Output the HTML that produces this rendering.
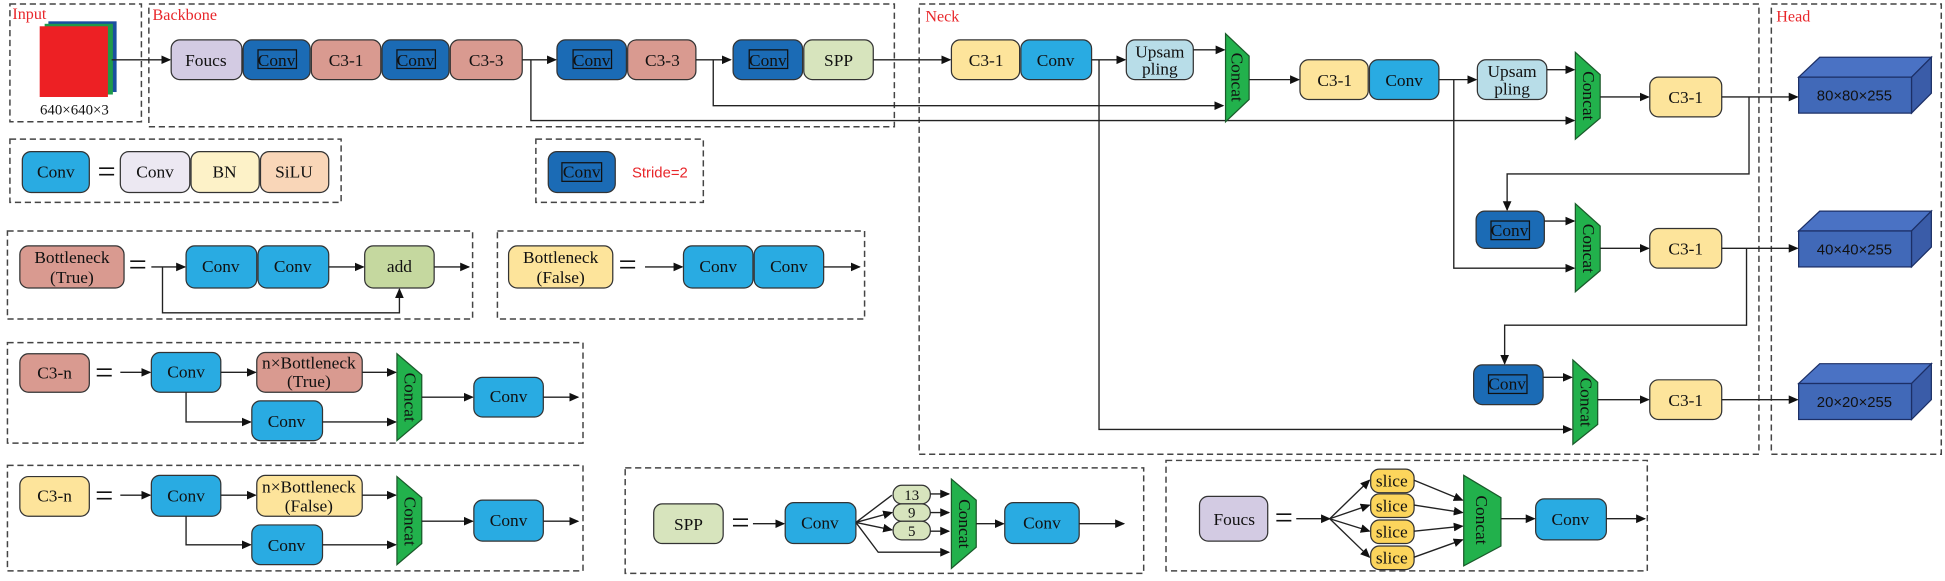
<!DOCTYPE html>
<html><head><meta charset="utf-8"><style>
html,body{margin:0;padding:0;background:#fff;}
svg{display:block;}
text{font-family:"Liberation Serif",serif;font-size:14px;fill:#111;}
.r{fill:#e8262a;font-size:13px;}
.d{fill:none;stroke:#444;stroke-width:1.2;stroke-dasharray:5,3;}
.b{stroke:#333;stroke-width:1;}
.l{fill:none;stroke:#222;stroke-width:1.1;}
.cv{fill:#29abe2;}
.dk{fill:#1b6bb5;}
.pk{fill:#d99a90;}
.yl{fill:#fde49b;}
.cc{fill:#22b14c;stroke:#1a5a2a;stroke-width:1;}
</style></head><body>
<svg width="1945" height="581" viewBox="0 0 1568 468" xmlns="http://www.w3.org/2000/svg">
<defs><marker id="a" markerWidth="8" markerHeight="8" refX="7" refY="4" orient="auto" markerUnits="userSpaceOnUse"><path d="M0,0.5 L8,4 L0,7.5Z" fill="#111"/></marker></defs>
<g text-anchor="middle">
<rect class="d" x="8" y="3" width="106" height="95"/>
<rect class="d" x="120" y="3" width="601" height="99"/>
<rect class="d" x="741" y="3" width="677" height="363"/>
<rect class="d" x="1428" y="3" width="137" height="363"/>
<rect class="d" x="8" y="112" width="267" height="51"/>
<rect class="d" x="432" y="112" width="135" height="51"/>
<rect class="d" x="6" y="186" width="375" height="71"/>
<rect class="d" x="401" y="186" width="296" height="71"/>
<rect class="d" x="6" y="276" width="464" height="81"/>
<rect class="d" x="6" y="375" width="464" height="85"/>
<rect class="d" x="504" y="377" width="418" height="85"/>
<rect class="d" x="940" y="371" width="388" height="89"/>
<g text-anchor="start"><text class="r" x="10" y="15">Input</text><text class="r" x="123" y="16">Backbone</text><text class="r" x="746" y="17">Neck</text><text class="r" x="1432" y="17">Head</text></g>

<rect x="39" y="17" width="55" height="57" fill="#1a4fa0"/>
<rect x="36" y="19" width="55" height="57" fill="#1f9a4a"/>
<rect x="32" y="21" width="55" height="57" fill="#ed2024"/>
<text x="60" y="92" style="font-size:12px">640×640×3</text>
<line class="l" x1="90" y1="48" x2="137" y2="48" marker-end="url(#a)"/>

<rect class="b" x="138" y="32" width="57" height="32" rx="7" fill="#d3cbe3"/><text x="166" y="53">Foucs</text>
<rect class="b dk" x="196" y="32" width="54" height="32" rx="7"/><rect x="208" y="40" width="31" height="15" fill="none" stroke="#111"/><text x="223" y="53">Conv</text>
<rect class="b pk" x="251" y="32" width="56" height="32" rx="7"/><text x="279" y="53">C3-1</text>
<rect class="b dk" x="308" y="32" width="54" height="32" rx="7"/><rect x="320" y="40" width="31" height="15" fill="none" stroke="#111"/><text x="335" y="53">Conv</text>
<rect class="b pk" x="363" y="32" width="58" height="32" rx="7"/><text x="392" y="53">C3-3</text>
<line class="l" x1="421" y1="48" x2="448" y2="48" marker-end="url(#a)"/>
<rect class="b dk" x="449" y="32" width="56" height="32" rx="7"/><rect x="462" y="40" width="31" height="15" fill="none" stroke="#111"/><text x="477" y="53">Conv</text>
<rect class="b pk" x="506" y="32" width="55" height="32" rx="7"/><text x="534" y="53">C3-3</text>
<line class="l" x1="561" y1="48" x2="589" y2="48" marker-end="url(#a)"/>
<rect class="b dk" x="591" y="32" width="56" height="32" rx="7"/><rect x="604" y="40" width="31" height="15" fill="none" stroke="#111"/><text x="619" y="53">Conv</text>
<rect class="b" x="648" y="32" width="56" height="32" rx="7" fill="#d7e4bd"/><text x="676" y="53">SPP</text>
<line class="l" x1="704" y1="48" x2="766" y2="48" marker-end="url(#a)"/>
<polyline class="l" points="575,48 575,85 986,85" marker-end="url(#a)"/>
<polyline class="l" points="428,48 428,97 1269,97" marker-end="url(#a)"/>

<rect class="b yl" x="767" y="32" width="55" height="32" rx="7"/><text x="795" y="53">C3-1</text>
<rect class="b cv" x="823" y="32" width="57" height="32" rx="7"/><text x="851" y="53">Conv</text>
<line class="l" x1="880" y1="48" x2="907" y2="48" marker-end="url(#a)"/>
<polyline class="l" points="886,48 886,346 1267,346" marker-end="url(#a)"/>
<rect class="b" x="908" y="32" width="54" height="32" rx="7" fill="#b8dde8"/><text x="935" y="46">Upsam</text><text x="935" y="60">pling</text>
<line class="l" x1="962" y1="40" x2="987" y2="40" marker-end="url(#a)"/>
<polygon class="cc" points="988,27 1007,45 1007,80 988,98"/><text transform="translate(997,62) rotate(90)" y="4">Concat</text>
<line class="l" x1="1007" y1="64" x2="1047" y2="64" marker-end="url(#a)"/>
<rect class="b yl" x="1048" y="48" width="55" height="32" rx="7"/><text x="1076" y="69">C3-1</text>
<rect class="b cv" x="1104" y="48" width="56" height="32" rx="7"/><text x="1132" y="69">Conv</text>
<line class="l" x1="1160" y1="64" x2="1190" y2="64" marker-end="url(#a)"/>
<polyline class="l" points="1172,64 1172,216 1269,216" marker-end="url(#a)"/>
<rect class="b" x="1191" y="48" width="56" height="32" rx="7" fill="#b8dde8"/><text x="1219" y="62">Upsam</text><text x="1219" y="76">pling</text>
<line class="l" x1="1247" y1="56" x2="1269" y2="56" marker-end="url(#a)"/>
<polygon class="cc" points="1270,42 1290,60 1290,95 1270,112"/><text transform="translate(1280,77) rotate(90)" y="4">Concat</text>
<line class="l" x1="1290" y1="78" x2="1329" y2="78" marker-end="url(#a)"/>
<rect class="b yl" x="1330" y="62" width="58" height="32" rx="7"/><text x="1359" y="83">C3-1</text>
<line class="l" x1="1388" y1="78" x2="1449" y2="78" marker-end="url(#a)"/>
<polyline class="l" points="1410,78 1410,140 1215,140 1215,169" marker-end="url(#a)"/>
<rect class="b dk" x="1190" y="170" width="55" height="30" rx="7"/><rect x="1202" y="178" width="31" height="15" fill="none" stroke="#111"/><text x="1217" y="190">Conv</text>
<line class="l" x1="1245" y1="178" x2="1269" y2="178" marker-end="url(#a)"/>
<polygon class="cc" points="1270,164 1290,182 1290,218 1270,235"/><text transform="translate(1280,200) rotate(90)" y="4">Concat</text>
<line class="l" x1="1290" y1="200" x2="1329" y2="200" marker-end="url(#a)"/>
<rect class="b yl" x="1330" y="184" width="58" height="32" rx="7"/><text x="1359" y="205">C3-1</text>
<line class="l" x1="1388" y1="200" x2="1449" y2="200" marker-end="url(#a)"/>
<polyline class="l" points="1408,200 1408,262 1213,262 1213,293" marker-end="url(#a)"/>
<rect class="b dk" x="1188" y="294" width="56" height="32" rx="7"/><rect x="1200" y="302" width="31" height="15" fill="none" stroke="#111"/><text x="1215" y="314">Conv</text>
<line class="l" x1="1244" y1="304" x2="1267" y2="304" marker-end="url(#a)"/>
<polygon class="cc" points="1268,290 1288,308 1288,342 1268,358"/><text transform="translate(1278,324) rotate(90)" y="4">Concat</text>
<line class="l" x1="1288" y1="322" x2="1329" y2="322" marker-end="url(#a)"/>
<rect class="b yl" x="1330" y="306" width="58" height="32" rx="7"/><text x="1359" y="327">C3-1</text>
<line class="l" x1="1388" y1="322" x2="1449" y2="322" marker-end="url(#a)"/>

<g stroke="#1c2f66" stroke-width="1">
<polygon points="1450,62 1467,46 1557,46 1541,62" fill="#4a72c4"/><polygon points="1541,62 1557,46 1557,75 1541,91" fill="#3a5ca8"/><rect x="1450" y="62" width="91" height="29" fill="#4169b8"/>
<polygon points="1450,186 1467,170 1557,170 1541,186" fill="#4a72c4"/><polygon points="1541,186 1557,170 1557,199 1541,215" fill="#3a5ca8"/><rect x="1450" y="186" width="91" height="29" fill="#4169b8"/>
<polygon points="1450,309 1467,293 1557,293 1541,309" fill="#4a72c4"/><polygon points="1541,309 1557,293 1557,322 1541,338" fill="#3a5ca8"/><rect x="1450" y="309" width="91" height="29" fill="#4169b8"/>
</g>
<text x="1495" y="81" style="font-family:'Liberation Sans',sans-serif;font-size:12px">80×80×255</text><text x="1495" y="205" style="font-family:'Liberation Sans',sans-serif;font-size:12px">40×40×255</text><text x="1495" y="328" style="font-family:'Liberation Sans',sans-serif;font-size:12px">20×20×255</text>

<rect class="b cv" x="18" y="122" width="54" height="33" rx="7"/><text x="45" y="143">Conv</text>
<text x="86" y="147" style="font-size:26px">=</text>
<rect class="b" x="97" y="122" width="56" height="33" rx="7" fill="#ece8f2"/><text x="125" y="143">Conv</text>
<rect class="b" x="154" y="122" width="55" height="33" rx="7" fill="#fdf2c8"/><text x="181" y="143">BN</text>
<rect class="b" x="210" y="122" width="55" height="33" rx="7" fill="#f9d6b8"/><text x="237" y="143">SiLU</text>
<rect class="b dk" x="442" y="122" width="54" height="33" rx="7"/><rect x="453" y="131" width="32" height="15" fill="none" stroke="#111"/><text x="469" y="143">Conv</text>
<text x="532" y="143" style="font-family:'Liberation Sans',sans-serif;font-size:12px;fill:#e8262a">Stride=2</text>

<rect class="b pk" x="16" y="198" width="84" height="34" rx="7"/><text x="58" y="212">Bottleneck</text><text x="58" y="228">(True)</text>
<text x="111" y="222" style="font-size:26px">=</text>
<line class="l" x1="122" y1="215" x2="149" y2="215" marker-end="url(#a)"/>
<polyline class="l" points="131,215 131,252 322,252 322,233" marker-end="url(#a)"/>
<rect class="b cv" x="150" y="198" width="57" height="34" rx="7"/><text x="178" y="219">Conv</text>
<rect class="b cv" x="208" y="198" width="57" height="34" rx="7"/><text x="236" y="219">Conv</text>
<line class="l" x1="265" y1="215" x2="293" y2="215" marker-end="url(#a)"/>
<rect class="b" x="294" y="198" width="56" height="34" rx="7" fill="#c5d89f"/><text x="322" y="219">add</text>
<line class="l" x1="350" y1="215" x2="378" y2="215" marker-end="url(#a)"/>
<rect class="b yl" x="410" y="198" width="84" height="34" rx="7"/><text x="452" y="212">Bottleneck</text><text x="452" y="228">(False)</text>
<text x="506" y="222" style="font-size:26px">=</text>
<line class="l" x1="520" y1="215" x2="550" y2="215" marker-end="url(#a)"/>
<rect class="b cv" x="551" y="198" width="56" height="34" rx="7"/><text x="579" y="219">Conv</text>
<rect class="b cv" x="608" y="198" width="56" height="34" rx="7"/><text x="636" y="219">Conv</text>
<line class="l" x1="664" y1="215" x2="693" y2="215" marker-end="url(#a)"/>

<rect class="b pk" x="16" y="285" width="56" height="31" rx="7"/><text x="44" y="305">C3-n</text>
<text x="84" y="309" style="font-size:26px">=</text>
<line class="l" x1="97" y1="300" x2="121" y2="300" marker-end="url(#a)"/>
<rect class="b cv" x="122" y="284" width="56" height="32" rx="7"/><text x="150" y="304">Conv</text>
<line class="l" x1="178" y1="300" x2="206" y2="300" marker-end="url(#a)"/>
<polyline class="l" points="150,316 150,340 202,340" marker-end="url(#a)"/>
<rect class="b pk" x="207" y="284" width="85" height="32" rx="7"/><text x="249" y="297">n×Bottleneck</text><text x="249" y="312">(True)</text>
<line class="l" x1="292" y1="300" x2="319" y2="300" marker-end="url(#a)"/>
<rect class="b cv" x="203" y="323" width="57" height="32" rx="7"/><text x="231" y="344">Conv</text>
<line class="l" x1="260" y1="340" x2="319" y2="340" marker-end="url(#a)"/>
<polygon class="cc" points="320,285 340,302 340,338 320,355"/><text transform="translate(330,320) rotate(90)" y="4">Concat</text>
<line class="l" x1="340" y1="320" x2="381" y2="320" marker-end="url(#a)"/>
<rect class="b cv" x="382" y="304" width="56" height="32" rx="7"/><text x="410" y="324">Conv</text>
<line class="l" x1="438" y1="320" x2="466" y2="320" marker-end="url(#a)"/>

<rect class="b yl" x="16" y="384" width="56" height="32" rx="7"/><text x="44" y="404">C3-n</text>
<text x="84" y="408" style="font-size:26px">=</text>
<line class="l" x1="97" y1="399" x2="121" y2="399" marker-end="url(#a)"/>
<rect class="b cv" x="122" y="383" width="56" height="33" rx="7"/><text x="150" y="404">Conv</text>
<line class="l" x1="178" y1="399" x2="206" y2="399" marker-end="url(#a)"/>
<polyline class="l" points="150,416 150,439 202,439" marker-end="url(#a)"/>
<rect class="b yl" x="207" y="383" width="85" height="33" rx="7"/><text x="249" y="397">n×Bottleneck</text><text x="249" y="412">(False)</text>
<line class="l" x1="292" y1="399" x2="319" y2="399" marker-end="url(#a)"/>
<rect class="b cv" x="203" y="423" width="57" height="32" rx="7"/><text x="231" y="444">Conv</text>
<line class="l" x1="260" y1="439" x2="319" y2="439" marker-end="url(#a)"/>
<polygon class="cc" points="320,384 340,401 340,438 320,455"/><text transform="translate(330,420) rotate(90)" y="4">Concat</text>
<line class="l" x1="340" y1="420" x2="381" y2="420" marker-end="url(#a)"/>
<rect class="b cv" x="382" y="403" width="56" height="33" rx="7"/><text x="410" y="424">Conv</text>
<line class="l" x1="438" y1="420" x2="466" y2="420" marker-end="url(#a)"/>

<rect class="b" x="527" y="406" width="56" height="32" rx="7" fill="#d7e4bd"/><text x="555" y="427">SPP</text>
<text x="597" y="430" style="font-size:26px">=</text>
<line class="l" x1="607" y1="422" x2="632" y2="422" marker-end="url(#a)"/>
<rect class="b cv" x="633" y="405" width="57" height="33" rx="7"/><text x="661" y="426">Conv</text>
<polyline class="l" points="719,399 690,421 719,413" marker-end="url(#a)"/>
<line class="l" x1="690" y1="421" x2="719" y2="427" marker-end="url(#a)"/>
<polyline class="l" points="690,421 708,445 765,445" marker-end="url(#a)"/>
<rect class="b" x="720" y="391" width="30" height="15" rx="7" fill="#d7e4bd"/><text x="735" y="403" style="font-size:12px">13</text>
<rect class="b" x="720" y="406" width="30" height="14" rx="7" fill="#d7e4bd"/><text x="735" y="417" style="font-size:12px">9</text>
<rect class="b" x="720" y="420" width="30" height="15" rx="7" fill="#d7e4bd"/><text x="735" y="432" style="font-size:12px">5</text>
<line class="l" x1="750" y1="398" x2="765" y2="398" marker-end="url(#a)"/>
<line class="l" x1="750" y1="413" x2="765" y2="413" marker-end="url(#a)"/>
<line class="l" x1="750" y1="428" x2="765" y2="428" marker-end="url(#a)"/>
<polygon class="cc" points="767,386 787,403 787,441 767,458"/><text transform="translate(777,422) rotate(90)" y="4">Concat</text>
<line class="l" x1="787" y1="422" x2="809" y2="422" marker-end="url(#a)"/>
<rect class="b cv" x="810" y="405" width="60" height="33" rx="7"/><text x="840" y="426">Conv</text>
<line class="l" x1="870" y1="422" x2="906" y2="422" marker-end="url(#a)"/>

<rect class="b" x="967" y="400" width="55" height="36" rx="7" fill="#d3cbe3"/><text x="995" y="423">Foucs</text>
<text x="1035" y="426" style="font-size:26px">=</text>
<line class="l" x1="1045" y1="418" x2="1072" y2="418" marker-end="url(#a)"/>
<line class="l" x1="1072" y1="418" x2="1104" y2="387" marker-end="url(#a)"/>
<line class="l" x1="1072" y1="418" x2="1104" y2="407" marker-end="url(#a)"/>
<line class="l" x1="1072" y1="418" x2="1104" y2="428" marker-end="url(#a)"/>
<line class="l" x1="1072" y1="418" x2="1104" y2="449" marker-end="url(#a)"/>
<g fill="#fcd55c">
<rect class="b" x="1105" y="378" width="35" height="19" rx="7"/><rect class="b" x="1105" y="398" width="35" height="19" rx="7"/><rect class="b" x="1105" y="419" width="35" height="19" rx="7"/><rect class="b" x="1105" y="440" width="35" height="19" rx="7"/>
</g>
<text x="1122" y="392">slice</text><text x="1122" y="412">slice</text><text x="1122" y="433">slice</text><text x="1122" y="454">slice</text>
<line class="l" x1="1140" y1="387" x2="1179" y2="403" marker-end="url(#a)"/>
<line class="l" x1="1140" y1="407" x2="1179" y2="413" marker-end="url(#a)"/>
<line class="l" x1="1140" y1="428" x2="1179" y2="424" marker-end="url(#a)"/>
<line class="l" x1="1140" y1="449" x2="1179" y2="435" marker-end="url(#a)"/>
<polygon class="cc" points="1180,383 1210,401 1210,440 1180,456"/><text transform="translate(1194,419) rotate(90)" y="4">Concat</text>
<line class="l" x1="1210" y1="418" x2="1237" y2="418" marker-end="url(#a)"/>
<rect class="b cv" x="1238" y="402" width="57" height="33" rx="7"/><text x="1266" y="423">Conv</text>
<line class="l" x1="1295" y1="418" x2="1326" y2="418" marker-end="url(#a)"/>
</g>
</svg>
</body></html>
